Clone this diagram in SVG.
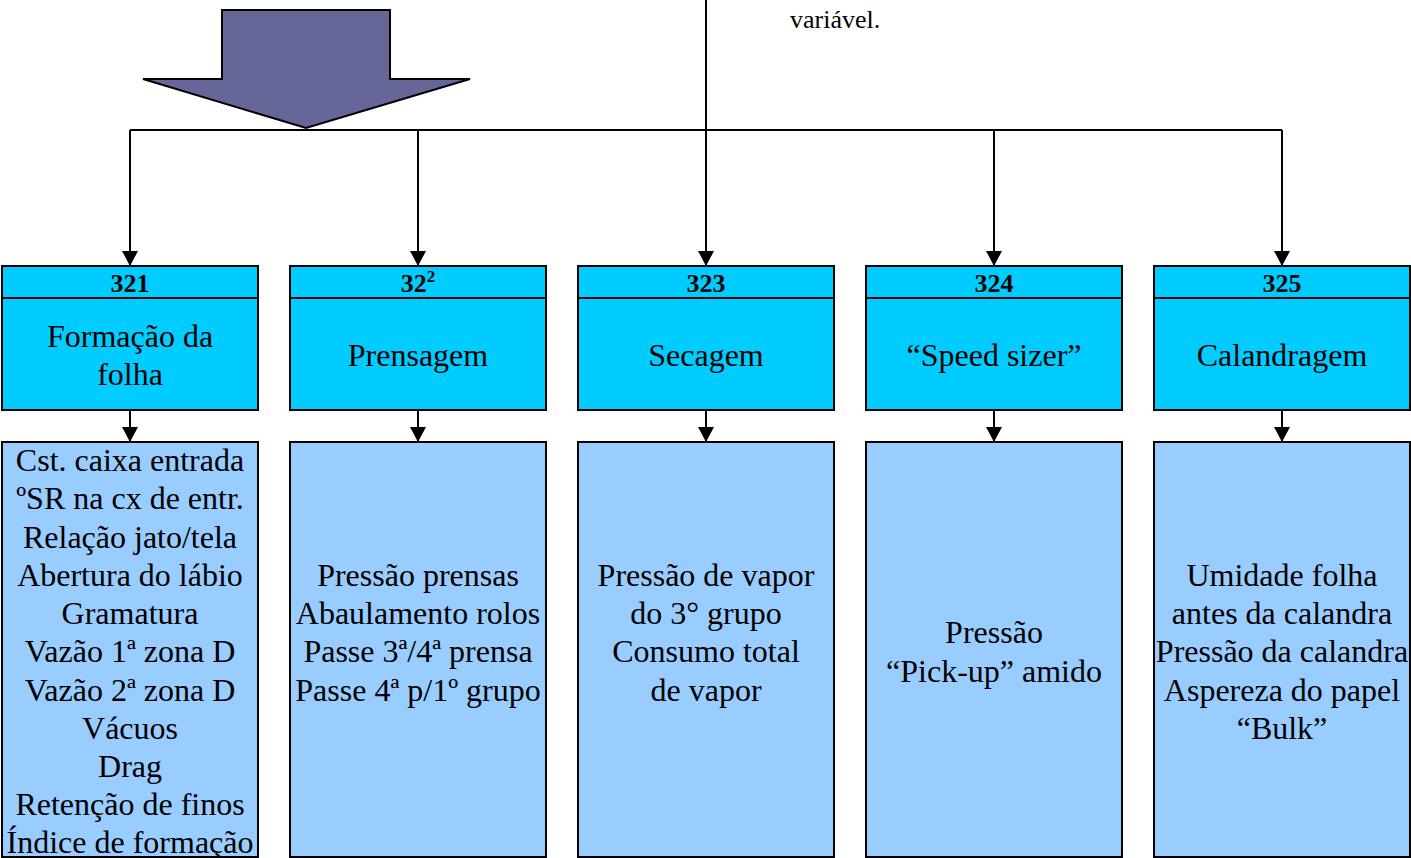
<svg xmlns="http://www.w3.org/2000/svg" width="1411" height="858" viewBox="0 0 1411 858">
  <defs>
    <marker id="arrow" markerWidth="16" markerHeight="16" refX="15" refY="8" orient="auto" markerUnits="userSpaceOnUse">
      <path d="M0,0 L15,8 L0,16 Z" fill="#000"/>
    </marker>
    <style>
      .hdr { fill: #00CCFF; stroke: #000; stroke-width: 2; }
      .low { fill: #99CCFF; stroke: #000; stroke-width: 2; }
      .num { font-family: "Liberation Serif", "Times New Roman", serif; font-size: 26px; font-weight: bold; text-anchor: middle; fill: #000; }
      .ttl { font-family: "Liberation Serif", "Times New Roman", serif; font-size: 32px; text-anchor: middle; fill: #000; }
      .lst { font-family: "Liberation Serif", "Times New Roman", serif; font-size: 32px; text-anchor: middle; fill: #000; }
      .note { font-family: "Liberation Serif", "Times New Roman", serif; font-size: 26px; fill: #000; }
      .wire { fill: none; stroke: #000; stroke-width: 2; }
      .wire-a { fill: none; stroke: #000; stroke-width: 2; marker-end: url(#arrow); }
    </style>
  </defs>
  <rect width="1411" height="858" fill="#fff"/>

  <!-- big block arrow -->
  <g id="block-arrow">
    <polygon points="222,10 390,10 390,79 470,79 306,128 143,79 222,79" fill="#666699" stroke="#000" stroke-width="2"/>
  </g>

  <!-- note at top -->
  <g id="note">
    <text class="note" x="790" y="28">variável.</text>
  </g>

  <!-- connectors -->
  <g id="connectors">
    <line class="wire" x1="706" y1="0" x2="706" y2="130"/>
    <line class="wire" x1="130" y1="130" x2="1282" y2="130"/>
    <line class="wire-a" x1="130" y1="130" x2="130" y2="266"/>
    <line class="wire-a" x1="418" y1="130" x2="418" y2="266"/>
    <line class="wire-a" x1="706" y1="130" x2="706" y2="266"/>
    <line class="wire-a" x1="994" y1="130" x2="994" y2="266"/>
    <line class="wire-a" x1="1282" y1="130" x2="1282" y2="266"/>
    <line class="wire-a" x1="130" y1="410" x2="130" y2="442"/>
    <line class="wire-a" x1="418" y1="410" x2="418" y2="442"/>
    <line class="wire-a" x1="706" y1="410" x2="706" y2="442"/>
    <line class="wire-a" x1="994" y1="410" x2="994" y2="442"/>
    <line class="wire-a" x1="1282" y1="410" x2="1282" y2="442"/>
  </g>

  <!-- 321 -->
  <g id="n321">
    <rect class="hdr" x="2" y="266" width="256" height="32"/>
    <rect class="hdr" x="2" y="298" width="256" height="112"/>
    <text class="num" x="130" y="292">321</text>
    <text class="ttl" x="130" y="347">Formação da</text>
    <text class="ttl" x="130" y="385">folha</text>
  </g>
  <g id="n321-list">
    <rect class="low" x="2" y="442" width="256" height="415"/>
    <text class="lst" x="130" y="471">Cst. caixa entrada</text>
    <text class="lst" x="130" y="509">ºSR na cx de entr.</text>
    <text class="lst" x="130" y="548">Relação jato/tela</text>
    <text class="lst" x="130" y="586">Abertura do lábio</text>
    <text class="lst" x="130" y="624">Gramatura</text>
    <text class="lst" x="130" y="662">Vazão 1ª zona D</text>
    <text class="lst" x="130" y="701">Vazão 2ª zona D</text>
    <text class="lst" x="130" y="739">Vácuos</text>
    <text class="lst" x="130" y="777">Drag</text>
    <text class="lst" x="130" y="815">Retenção de finos</text>
    <text class="lst" x="130" y="853">Índice de formação</text>
  </g>

  <!-- 322 -->
  <g id="n322">
    <rect class="hdr" x="290" y="266" width="256" height="32"/>
    <rect class="hdr" x="290" y="298" width="256" height="112"/>
    <text class="num" x="418" y="292">32<tspan font-size="17" dy="-10">2</tspan></text>
    <text class="ttl" x="418" y="366">Prensagem</text>
  </g>
  <g id="n322-list">
    <rect class="low" x="290" y="442" width="256" height="415"/>
    <text class="lst" x="418" y="586">Pressão prensas</text>
    <text class="lst" x="418" y="624">Abaulamento rolos</text>
    <text class="lst" x="418" y="662">Passe 3ª/4ª prensa</text>
    <text class="lst" x="418" y="701">Passe 4ª p/1º grupo</text>
  </g>

  <!-- 323 -->
  <g id="n323">
    <rect class="hdr" x="578" y="266" width="256" height="32"/>
    <rect class="hdr" x="578" y="298" width="256" height="112"/>
    <text class="num" x="706" y="292">323</text>
    <text class="ttl" x="706" y="366">Secagem</text>
  </g>
  <g id="n323-list">
    <rect class="low" x="578" y="442" width="256" height="415"/>
    <text class="lst" x="706" y="586">Pressão de vapor</text>
    <text class="lst" x="706" y="624">do 3° grupo</text>
    <text class="lst" x="706" y="662">Consumo total</text>
    <text class="lst" x="706" y="701">de vapor</text>
  </g>

  <!-- 324 -->
  <g id="n324">
    <rect class="hdr" x="866" y="266" width="256" height="32"/>
    <rect class="hdr" x="866" y="298" width="256" height="112"/>
    <text class="num" x="994" y="292">324</text>
    <text class="ttl" x="994" y="366">“Speed sizer”</text>
  </g>
  <g id="n324-list">
    <rect class="low" x="866" y="442" width="256" height="415"/>
    <text class="lst" x="994" y="643">Pressão</text>
    <text class="lst" x="994" y="682">“Pick-up” amido</text>
  </g>

  <!-- 325 -->
  <g id="n325">
    <rect class="hdr" x="1154" y="266" width="256" height="32"/>
    <rect class="hdr" x="1154" y="298" width="256" height="112"/>
    <text class="num" x="1282" y="292">325</text>
    <text class="ttl" x="1282" y="366">Calandragem</text>
  </g>
  <g id="n325-list">
    <rect class="low" x="1154" y="442" width="256" height="415"/>
    <text class="lst" x="1282" y="586">Umidade folha</text>
    <text class="lst" x="1282" y="624">antes da calandra</text>
    <text class="lst" x="1282" y="662">Pressão da calandra</text>
    <text class="lst" x="1282" y="701">Aspereza do papel</text>
    <text class="lst" x="1282" y="739">“Bulk”</text>
  </g>
</svg>
